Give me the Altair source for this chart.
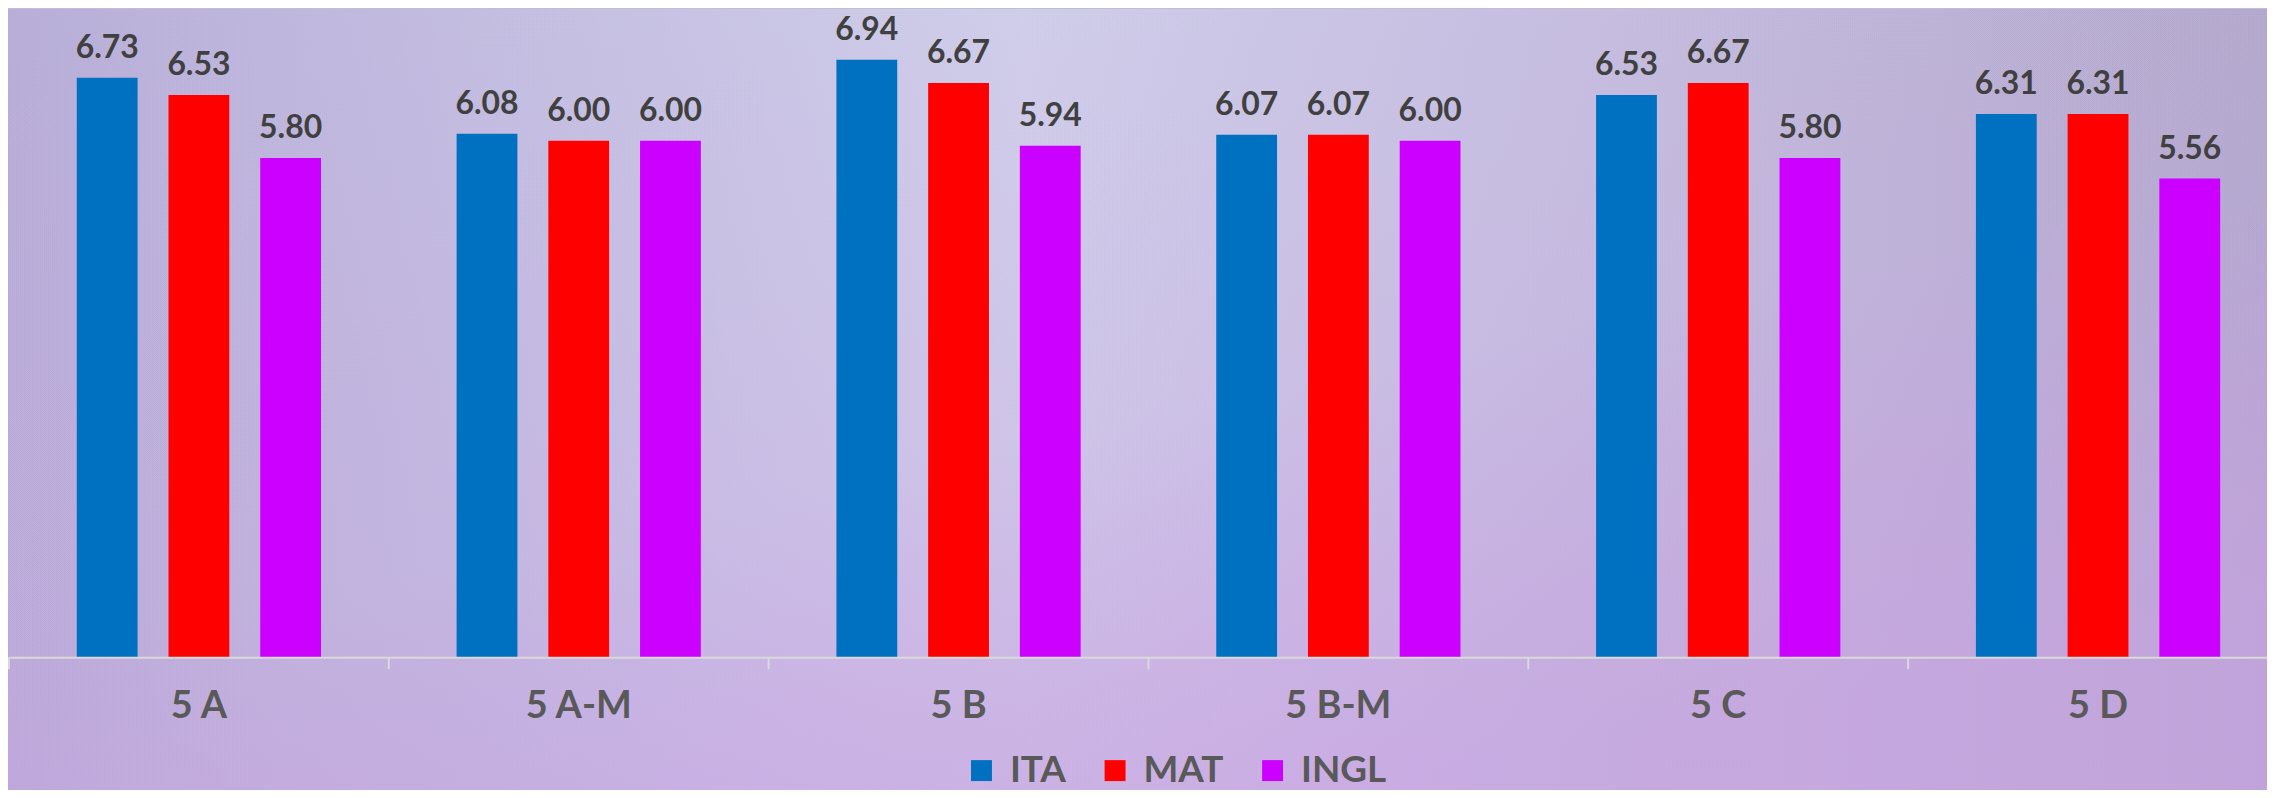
import altair as alt
import pandas as pd

classes = ["5 A", "5 A-M", "5 B", "5 B-M", "5 C", "5 D"]
subjects = ["ITA", "MAT", "INGL"]
ita = [6.73, 6.08, 6.94, 6.07, 6.53, 6.31]
mat = [6.53, 6.00, 6.67, 6.07, 6.67, 6.31]
ingl = [5.80, 6.00, 5.94, 6.00, 5.80, 5.56]
colors = ["#0070c0", "#ff0000", "#cc00ff"]

rows = []
for i, c in enumerate(classes):
    for s, vals in zip(subjects, [ita, mat, ingl]):
        rows.append({"cls": c, "subj": s, "val": vals[i]})
df = pd.DataFrame(rows)
cls_df = pd.DataFrame({"cls": classes})

W, H = 2266, 650

x_scale = alt.Scale(domain=classes, range=[1, 2287], paddingInner=0, paddingOuter=0)
xo_scale = alt.Scale(domain=subjects, paddingInner=0.337, paddingOuter=0.739)
y_scale = alt.Scale(domain=[0, 7.527], nice=False, zero=True)
c_scale = alt.Scale(domain=subjects, range=colors)

bg = alt.Chart(cls_df).mark_rect(
    color=alt.Gradient(
        gradient="linear", x1=0, y1=0, x2=1, y2=0,
        stops=[
            alt.GradientStop(offset=0, color="#b8aed8"),
            alt.GradientStop(offset=0.45, color="#d0d2ea"),
            alt.GradientStop(offset=0.75, color="#c3bfdd"),
            alt.GradientStop(offset=1, color="#aeabc9"),
        ],
    )
).encode(
    x=alt.value(0), x2=alt.value(W), y=alt.value(0), y2=alt.value(790)
)

bg2 = alt.Chart(cls_df).mark_rect(
    color=alt.Gradient(
        gradient="linear", x1=0, y1=0, x2=0.6, y2=1,
        stops=[
            alt.GradientStop(offset=0, color="rgba(200,160,225,0)"),
            alt.GradientStop(offset=0.6, color="rgba(200,160,225,0.05)"),
            alt.GradientStop(offset=1, color="rgba(200,160,225,0.18)"),
        ],
    )
).encode(
    x=alt.value(0), x2=alt.value(W), y=alt.value(0), y2=alt.value(790)
)

x_axis = alt.Axis(ticks=False, domain=True, domainColor="#d9d9d9", domainWidth=2,
                  labelAngle=0, labelFont="Lato", labelFontSize=38,
                  labelFontWeight="bold", labelColor="#595959", labelPadding=30,
                  zindex=2)

bars = alt.Chart(df).mark_bar().encode(
    x=alt.X("cls:N", scale=x_scale, sort=classes, title=None, axis=x_axis),
    xOffset=alt.XOffset("subj:N", scale=xo_scale, sort=subjects),
    y=alt.Y("val:Q", scale=y_scale, axis=None),
    color=alt.Color("subj:N", scale=c_scale, sort=subjects,
                    legend=alt.Legend(orient="none", legendX=958, legendY=745,
                                      direction="horizontal", title=None,
                                      symbolType="square", symbolSize=441,
                                      symbolStrokeWidth=0,
                                      labelFont="Lato", labelFontSize=37,
                                      labelFontWeight="bold", labelColor="#595959",
                                      columnPadding=30, labelOffset=10, padding=0,
                                      zindex=2)),
)

labels = alt.Chart(df).mark_text(
    font="Lato", fontSize=32, fontWeight="bold", color="#404040",
    baseline="alphabetic", dy=-20
).encode(
    x=alt.X("cls:N", scale=x_scale, sort=classes, title=None, axis=x_axis),
    xOffset=alt.XOffset("subj:N", scale=xo_scale, sort=subjects),
    y=alt.Y("val:Q", scale=y_scale, axis=None),
    text=alt.Text("val:Q", format=".2f"),
)

ticks = alt.Chart(cls_df).mark_rule(color="#d9d9d9", strokeWidth=2).encode(
    x=alt.X("cls:N", scale=x_scale, sort=classes, bandPosition=0, title=None, axis=x_axis),
    y=alt.value(H), y2=alt.value(H + 12),
)

chart = alt.layer(bg, bg2, ticks, bars, labels).properties(
    width=W, height=H,
    autosize=alt.AutoSizeParams(type="none"),
    padding={"left": 0, "top": 0, "right": 0, "bottom": 132},
    background="#c2bcdc",
).configure_view(stroke=None)

chart.save("out.html", embed_options={"renderer": "svg", "actions": False})
